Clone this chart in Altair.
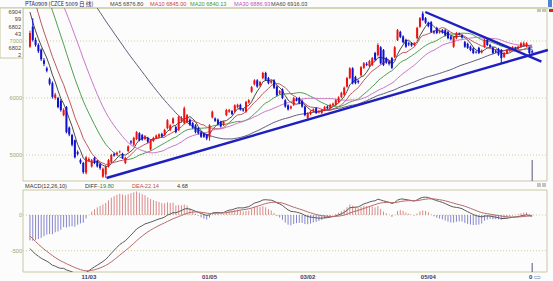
import altair as alt
import pandas as pd

# ---------------- data ----------------
# closes before the first visible bar (only used to seed the moving averages / MACD)
pre_close = [9420, 9450, 9400, 9380, 9430, 9460, 9410, 9370, 9350, 9390,
             9360, 9320, 9340, 9300, 9330, 9290, 9310, 9270, 9300, 9260,
             9280, 9240, 9270, 9230, 9250,
             9260, 9230, 9280, 9250, 9220, 9270, 9240, 9260, 9210, 9250,
             9230, 9260, 9220, 9240, 9200, 9230, 9190, 9180,
             9150, 9100, 9080, 9020, 8980, 8950, 8900, 8850, 8800, 8700,
             8550, 8350, 8150, 7900, 7700, 7500, 7300]

opens = [6900, 7250, 7020, 6930, 6850, 6660, 6520, 6330, 6260, 6000,
         6000, 5950, 5700, 5840, 5480, 5350, 5260, 5050, 4910, 4860,
         4690, 4900, 4800, 4950, 4900, 4840, 4620, 4660, 4800, 4880,
         5020, 5010, 5050, 5020, 4860, 5070, 5240, 5180, 5280, 5380,
         5350, 5280, 5300, 5100, 5250, 5300, 5320, 5370, 5350, 5470,
         5440, 5560, 5490, 5440, 5600, 5560, 5580, 5620, 5560, 5520,
         5470, 5400, 5380, 5360, 5310, 5660, 5640, 5620, 5580, 5530,
         5700, 5760, 5770, 5760, 5840, 5880, 5800, 5760, 5920, 6110,
         6240, 6310, 6220, 6350, 6440, 6350, 6270, 6310, 6200, 6080,
         6150, 5960, 5870, 5820, 5880, 5990, 6000, 5950, 5850, 5650,
         5720, 5770, 5820, 5750, 5740, 5790, 5850, 5830, 5870, 5880,
         5930, 6020, 6060, 6200, 6350, 6520, 6370, 6300, 6400, 6530,
         6600, 6560, 6580, 6790, 6750, 6890, 6840, 6700, 6640, 6700,
         6720, 7020, 7160, 7080, 7020, 6960, 6960, 6930, 7050, 7250,
         7480, 7400, 7320, 7330, 7170, 7230, 7150, 7190, 7190, 7160,
         7080, 6900, 7050, 7130, 7100, 6980, 6950, 6900, 6870, 6810,
         6880, 6800, 6900, 7020, 6930, 6880, 6830, 6860, 6840, 6720,
         6790, 6830, 6860, 6880, 6870, 6900, 6920, 6910, 6880, 6820]

closes = [7140, 7020, 6930, 6820, 6680, 6600, 6480, 6250, 6020, 6060,
          5840, 5790, 5790, 5400, 5360, 5180, 4960, 5020, 4870, 4700,
          4960, 4930, 4910, 4860, 4800, 4770, 4760, 4790, 4910, 5000,
          4990, 5040, 5060, 4950, 4950, 5150, 5220, 5300, 5400, 5260,
          5270, 5330, 5230, 5260, 5300, 5340, 5360, 5330, 5440, 5610,
          5520, 5640, 5400, 5670, 5650, 5820, 5700, 5530, 5480, 5400,
          5380, 5320, 5320, 5290, 5520, 5760, 5600, 5540, 5500, 5580,
          5790, 5790, 5720, 5870, 5880, 5800, 5780, 5930, 5960, 6190,
          6310, 6200, 6280, 6440, 6320, 6260, 6300, 6180, 6050, 6120,
          6000, 5850, 5800, 5850, 6000, 5960, 5910, 5850, 5700, 5730,
          5760, 5800, 5740, 5770, 5790, 5840, 5820, 5880, 5900, 5960,
          6010, 6090, 6180, 6350, 6520, 6260, 6260, 6280, 6540, 6610,
          6580, 6650, 6700, 6670, 6930, 6610, 6580, 6620, 6600, 6530,
          6890, 7190, 7070, 6980, 6900, 6940, 6920, 6960, 7230, 7400,
          7370, 7320, 7260, 7160, 7150, 7140, 7180, 7150, 7100, 7050,
          7030, 7070, 7140, 7120, 7060, 6900, 6880, 6840, 6790, 6800,
          6790, 6830, 7020, 6930, 6900, 6790, 6810, 6760, 6700, 6790,
          6840, 6880, 6890, 6870, 6900, 6960, 6960, 6960, 6790, 6800]

highs = [7180, 7400, 7060, 6960, 6870, 6700, 6550, 6360, 6290, 6090,
         6020, 5980, 5820, 5860, 5500, 5370, 5270, 5080, 4940, 4880,
         4980, 4960, 4930, 4970, 4910, 4860, 4780, 4820, 4930, 5020,
         5040, 5060, 5080, 5040, 4970, 5170, 5260, 5320, 5420, 5400,
         5370, 5350, 5320, 5280, 5320, 5360, 5380, 5390, 5460, 5630,
         5540, 5660, 5510, 5690, 5680, 5850, 5720, 5640, 5580, 5540,
         5490, 5420, 5390, 5370, 5540, 5780, 5660, 5640, 5600, 5600,
         5810, 5810, 5790, 5890, 5900, 5900, 5820, 5950, 5980, 6210,
         6330, 6330, 6300, 6460, 6460, 6370, 6320, 6330, 6220, 6140,
         6170, 5980, 5890, 5870, 6020, 6010, 6020, 5970, 5870, 5750,
         5780, 5820, 5840, 5790, 5810, 5860, 5870, 5900, 5920, 5980,
         6030, 6110, 6200, 6370, 6540, 6540, 6390, 6320, 6560, 6630,
         6630, 6670, 6720, 6810, 6960, 6910, 6860, 6720, 6660, 6720,
         6910, 7210, 7180, 7100, 7040, 6990, 6980, 6980, 7250, 7420,
         7520, 7420, 7340, 7350, 7190, 7250, 7200, 7210, 7210, 7180,
         7100, 7090, 7160, 7150, 7120, 7000, 6970, 6920, 6890, 6830,
         6900, 6850, 7040, 7040, 6950, 6900, 6850, 6880, 6860, 6810,
         6860, 6900, 6910, 6900, 6920, 6980, 6990, 6980, 6900, 6850]

lows = [6880, 6990, 6900, 6790, 6650, 6560, 6450, 6220, 5990, 5970,
        5820, 5760, 5680, 5380, 5330, 5150, 4940, 4990, 4840, 4670,
        4660, 4880, 4780, 4840, 4780, 4740, 4600, 4600, 4780, 4860,
        4970, 4990, 5030, 4930, 4840, 5050, 5190, 5160, 5260, 5240,
        5250, 5260, 5210, 5080, 5230, 5280, 5300, 5310, 5330, 5450,
        5420, 5540, 5380, 5420, 5570, 5540, 5560, 5510, 5460, 5380,
        5360, 5300, 5300, 5260, 5250, 5640, 5580, 5520, 5480, 5510,
        5680, 5740, 5700, 5740, 5820, 5780, 5760, 5740, 5900, 6090,
        6220, 6180, 6200, 6330, 6300, 6240, 6250, 6160, 6030, 6060,
        5980, 5830, 5780, 5800, 5860, 5940, 5890, 5830, 5680, 5620,
        5700, 5750, 5720, 5730, 5720, 5770, 5800, 5810, 5850, 5860,
        5910, 6000, 6040, 6180, 6330, 6240, 6240, 6250, 6380, 6510,
        6560, 6540, 6560, 6650, 6730, 6590, 6560, 6600, 6570, 6510,
        6700, 7000, 7050, 6960, 6880, 6910, 6900, 6910, 7030, 7230,
        7350, 7300, 7240, 7140, 7120, 7120, 7130, 7130, 7080, 7030,
        7010, 6880, 7030, 7100, 7040, 6880, 6860, 6820, 6770, 6780,
        6770, 6780, 6880, 6910, 6880, 6770, 6790, 6740, 6600, 6700,
        6770, 6810, 6840, 6850, 6850, 6880, 6900, 6890, 6770, 6780]

ma_periods = [5, 10, 20, 30, 60]
ma_names = ["MA5", "MA10", "MA20", "MA30", "MA60"]
ma_colors = ["#4a4a4a", "#c05858", "#4f9f4f", "#c878c8", "#5e5e7e"]

price_grid = [5000, 6000, 7000]
price_grid_labels = ["5000", "6000", "7000"]
macd_grid = [0, -500]
macd_grid_labels = ["0", "-500"]

tick_idx = [21, 64, 99, 142]
tick_labels = ["11/03", "01/05", "03/02", "05/04"]

# trend lines drawn on the chart: (bar index, price)
trend_up_i = [27.3, 184.6]
trend_up_p = [4597, 6842]
trend_dn_i = [140.9, 182.3]
trend_dn_p = [7509, 6640]

cursor_i = [179]
cursor_price = [4544, 4912]
cursor_macd = [-798, -672]

header_main = "PTA0909 (CZCE 5009 日 线)"
ma_header_vals = ["6876.80", "6845.00", "6840.13", "6886.93", "6916.03"]
macd_header_vals = ["-19.80", "-22.14", "4.68"]
box_lines_a = ["6904", "99", "6802", "43"]
box_lines_b = ["6802", "2"]

# ---------------- derived series ----------------
n_pre = len(pre_close)
all_close = pd.Series(pre_close + closes, dtype=float)
n = len(closes)
idx = list(range(n))

candles = pd.DataFrame({"i": idx, "open": opens, "high": highs, "low": lows,
                        "close": closes})
candles["dir"] = ["up" if c >= o else "down" for o, c in zip(opens, closes)]

ma_rows = []
for p, name in zip(ma_periods, ma_names):
    vals = all_close.rolling(p, min_periods=1).mean().iloc[n_pre:].to_numpy()
    for i, v in zip(idx, vals):
        ma_rows.append({"i": i, "v": float(v), "s": name})
ma_df = pd.DataFrame(ma_rows)

ema12 = all_close.ewm(span=12, adjust=False).mean()
ema26 = all_close.ewm(span=26, adjust=False).mean()
diff = (ema12 - ema26)
dea = diff.ewm(span=10, adjust=False).mean()
hist = 2 * (diff - dea)
diff_v = diff.iloc[n_pre:].to_numpy()
dea_v = dea.iloc[n_pre:].to_numpy()
hist_v = hist.iloc[n_pre:].to_numpy()

macd_df = pd.DataFrame({"i": idx, "h": hist_v, "z": 0.0})
macd_df["sgn"] = ["pos" if h >= 0 else "neg" for h in hist_v]
lines_df = pd.DataFrame(
    [{"i": i, "v": float(d), "s": "DIFF"} for i, d in zip(idx, diff_v)] +
    [{"i": i, "v": float(e), "s": "DEA"} for i, e in zip(idx, dea_v)])

trend_df = pd.DataFrame({
    "i": trend_up_i + trend_dn_i,
    "p": trend_up_p + trend_dn_p,
    "t": ["up", "up", "dn", "dn"]})

# ---------------- layout ----------------
W = 524
H = 264                     # whole drawing area (main + gap + macd)
MAIN_BOTTOM = 173
MACD_TOP = 182
FONT = "Liberation Sans"
FS = 5.6
OLIVE = "#a5a565"
GRID = "#cfcf9a"
FRAME = "#c8c8a0"
RED = "#ee1111"
BLUE = "#1111cc"

xs = alt.Scale(domain=[-0.7, 182.5], nice=False, zero=False)
ys = alt.Scale(domain=[4544, 7579], nice=False, zero=False, range=[MAIN_BOTTOM, 0])
ms = alt.Scale(domain=[-798, 350], nice=False, zero=False, range=[H, MACD_TOP])
X = alt.X("i:Q", scale=xs, axis=None)

one = pd.DataFrame({"a": [0]})


def txt(text, x, y, color, align="left", font=FONT, size=FS, weight="normal", **kw):
    return alt.Chart(one).mark_text(align=align, baseline="middle", font=font,
                                    fontSize=size, color=color, fontWeight=weight, **kw).encode(
        x=alt.value(x), y=alt.value(y), text=alt.value(text))


def box_px(x1, x2, y1, y2, fill, stroke=None):
    kw = {"fill": fill}
    if stroke:
        kw.update(stroke=stroke, strokeWidth=1)
    return alt.Chart(one).mark_rect(**kw).encode(
        x=alt.value(x1), x2=alt.value(x2), y=alt.value(y1), y2=alt.value(y2))


# frames
frame_main = box_px(0, W, 0, MAIN_BOTTOM, "#fcfcfc", FRAME)
frame_macd = box_px(0, W, MACD_TOP, H, "#fcfcfc", FRAME)
frame_top = alt.Chart(one).mark_rule(color=FRAME, strokeWidth=1).encode(
    x=alt.value(-23), x2=alt.value(W + 6), y=alt.value(0))

# small window icons
icons = [
    box_px(525, 529, -8, -1, "#4a86d0"),
    box_px(514, 518, 1, 4, "#c4c4c4"),
    box_px(519, 523, 1, 4, "#c4c4c4"),
    box_px(526, 530, 1, 4, "#dd2222"),
    box_px(514, 518, 175, 179, "#c4c4c4"),
    box_px(519, 523, 175, 179, "#c4c4c4"),
    txt("⇨", 511, H + 4.5, "#6f8fc8", font="DejaVu Sans", size=8.5),
]

# ---- main panel ----
gdf = pd.DataFrame({"v": price_grid, "l": price_grid_labels})
grid_main = alt.Chart(gdf).mark_rule(color=GRID, strokeDash=[1, 2], strokeWidth=1).encode(
    y=alt.Y("v:Q", scale=ys, axis=None), x=alt.value(0), x2=alt.value(W))

box = box_px(-23, 0, 0, 50, "#fdfdfd", FRAME)
box_a = txt("|".join(box_lines_a), -2, 4, "#444444", align="right", lineHeight=7.3, lineBreak="|")
box_b = txt("|".join(box_lines_b), -2, 40, "#444444", align="right", lineHeight=6.5, lineBreak="|")

ylab_main = alt.Chart(gdf).mark_text(
    align="right", baseline="middle", font=FONT, fontSize=FS, color=OLIVE
).encode(y=alt.Y("v:Q", scale=ys, axis=None), x=alt.value(-1), text="l:N")

col_scale = alt.Scale(domain=["up", "down"], range=[RED, BLUE])
wicks = alt.Chart(candles).mark_rule(strokeWidth=1).encode(
    x=X, y=alt.Y("low:Q", scale=ys, axis=None), y2="high:Q",
    color=alt.Color("dir:N", scale=col_scale, legend=None))
bodies = alt.Chart(candles).mark_bar(size=2).encode(
    x=X, y=alt.Y("open:Q", scale=ys, axis=None), y2="close:Q",
    color=alt.Color("dir:N", scale=col_scale, legend=None))

ma_lines = alt.Chart(ma_df).mark_line(strokeWidth=1, clip=True).encode(
    x=X, y=alt.Y("v:Q", scale=ys, axis=None),
    color=alt.Color("s:N", scale=alt.Scale(domain=ma_names, range=ma_colors), legend=None))

trend = alt.Chart(trend_df).mark_line(strokeWidth=2.4, color="#1f1fbf").encode(
    x=X, y=alt.Y("p:Q", scale=ys, axis=None), detail="t:N")

cursor_main = alt.Chart(pd.DataFrame({"i": cursor_i, "a": [cursor_price[0]], "b": [cursor_price[1]]})).mark_rule(
    color="#555577", strokeWidth=1).encode(x=X, y=alt.Y("a:Q", scale=ys, axis=None), y2="b:Q")

hdr = [txt(header_main, 2, -4, "#222255", font="Noto Sans CJK SC")]
ma_hdr_x = [87, 127, 167, 211, 248]
ma_hdr_col = ["#444444", "#cc4444", "#3f9a3f", "#c050c0", "#444444"]
for name, val, hx, hc in zip(ma_names, ma_header_vals, ma_hdr_x, ma_hdr_col):
    hdr.append(txt(f"{name}  {val}", hx, -4, hc))

# ---- MACD panel ----
mgrid_df = pd.DataFrame({"v": macd_grid, "l": macd_grid_labels})
grid_macd = alt.Chart(mgrid_df).mark_rule(color=GRID, strokeDash=[1, 2], strokeWidth=1).encode(
    y=alt.Y("v:Q", scale=ms, axis=None), x=alt.value(0), x2=alt.value(W))
ylab_macd = alt.Chart(mgrid_df).mark_text(
    align="right", baseline="middle", font=FONT, fontSize=FS, color=OLIVE
).encode(y=alt.Y("v:Q", scale=ms, axis=None), x=alt.value(-1), text="l:N")

hist_bars = alt.Chart(macd_df).mark_rule(strokeWidth=1).encode(
    x=X, y=alt.Y("z:Q", scale=ms, axis=None), y2="h:Q",
    color=alt.Color("sgn:N", scale=alt.Scale(domain=["pos", "neg"], range=["#d98a8a", "#8585cc"]),
                    legend=None))
macd_lines = alt.Chart(lines_df).mark_line(strokeWidth=1, clip=True).encode(
    x=X, y=alt.Y("v:Q", scale=ms, axis=None),
    color=alt.Color("s:N", scale=alt.Scale(domain=["DIFF", "DEA"], range=["#5a5a5a", "#b86a6a"]),
                    legend=None))

cursor_macd_m = alt.Chart(pd.DataFrame({"i": cursor_i, "a": [cursor_macd[0]], "b": [cursor_macd[1]]})).mark_rule(
    color="#555577", strokeWidth=1).encode(x=X, y=alt.Y("a:Q", scale=ms, axis=None), y2="b:Q")

xlab = alt.Chart(pd.DataFrame({"i": tick_idx, "l": tick_labels})).mark_text(
    align="center", baseline="middle", font=FONT, fontSize=6, fontWeight="bold", color="#3a3a70"
).encode(x=X, y=alt.value(H + 5), text="l:N")
xlab_tail = txt("0", 506, H + 5, "#3a3a70", size=6, weight="bold")

macd_hdr_items = [("MACD(12,26,10)", 2, "#333333"),
                  ("DIFF", 62, "#333333"), (macd_header_vals[0], 75, "#3a7a3a"),
                  ("DEA", 109, "#c05050"), (macd_header_vals[1], 120, "#c05050"),
                  (macd_header_vals[2], 154, "#333333")]
mhdr = [txt(t, x, MACD_TOP - 4.5, c) for t, x, c in macd_hdr_items]

chart = alt.layer(
    frame_main, frame_macd, frame_top, grid_main, box, box_a, box_b, ylab_main,
    ma_lines, wicks, bodies, trend, cursor_main, *hdr,
    grid_macd, ylab_macd, hist_bars, macd_lines, cursor_macd_m, xlab, xlab_tail, *mhdr,
    *icons
).resolve_scale(y="independent", color="independent").properties(
    width=W, height=H,
    padding={"left": 23, "top": 8, "right": 6, "bottom": 9},
    autosize=alt.AutoSizeParams(type="none"),
    background="#fcfcfc",
).configure_view(stroke=None)

chart.save("out.html", embed_options={"renderer": "svg", "actions": False})
